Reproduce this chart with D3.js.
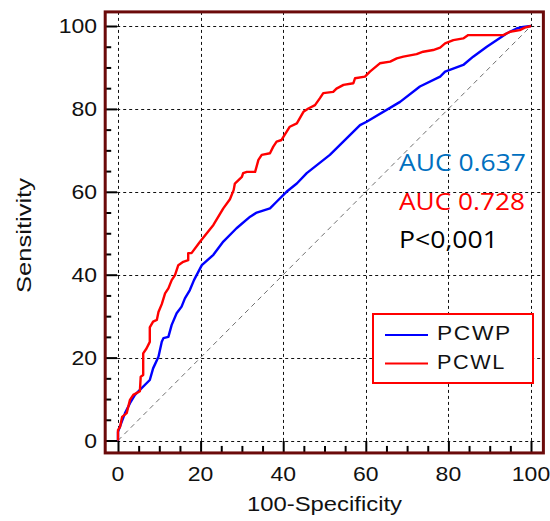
<!DOCTYPE html>
<html>
<head>
<meta charset="utf-8">
<script src="https://cdn.jsdelivr.net/npm/d3@7/dist/d3.min.js"></script>
<style>
    body { margin: 0; background: white; }
    svg { display: block; }
</style>
</head>
<body>
<svg id="chart" width="550" height="521"></svg>
<script>
// ROC curves (100-specificity, sensitivity)
var pcwpX = [0, 0, 0.9, 1.7, 2.9, 4.1, 5.3, 7.7, 8.5, 9.8, 10.6, 11, 12.2, 13, 14.2, 15.4, 16.2, 17.4, 18.4, 20.3, 23.1, 25.5, 28.7, 32, 33.6, 36.8, 38.4, 40.8, 43.3, 45.7, 51.3, 58.6, 60.2, 68.3, 73.1, 78, 79.2, 83.6, 86, 89.3, 94.1, 96.5, 98.1, 100];
var pcwpY = [0, 2.1, 4.5, 6.6, 9, 11, 12.2, 14.6, 17.4, 20.2, 23.8, 24.7, 25, 27.9, 30.7, 32.3, 34.3, 36.3, 38.7, 42.3, 44.8, 48, 51.2, 54, 55, 56, 57.6, 60, 62, 64.5, 68.9, 76.1, 76.9, 81.7, 85.4, 87.8, 89, 90.6, 92.6, 95, 98.2, 99.4, 99.8, 100];

var pcwlX = [0, 0, 0.5, 1, 2.1, 2.9, 3.7, 5.3, 5.5, 6.1, 6.1, 6.9, 7.7, 7.7, 8.5, 9.4, 9.8, 10.6, 11.4, 12.2, 13, 13.8, 14.6, 15.8, 17, 17, 17.8, 19.9, 23.1, 25.5, 27.1, 28, 28.3, 30, 30.3, 31.2, 33.2, 34, 34.8, 36.8, 37.6, 38.4, 39.6, 41.6, 43.3, 44.9, 46.1, 47.7, 48.9, 49.7, 52.1, 52.9, 54.6, 57, 57.4, 59.8, 61, 63.4, 65.9, 67.5, 69.1, 72.3, 73.9, 76.3, 78, 79.2, 81.2, 83.6, 84.8, 93.3, 94.9, 97.3, 98.5, 100];
var pcwlY = [0, 2.5, 3.3, 5.7, 6.6, 9.8, 11, 11.9, 15.4, 15.8, 21, 22.2, 23.8, 27.3, 28.7, 29.1, 31, 32.9, 35.5, 36.7, 38.7, 39.9, 42.3, 43.1, 43.5, 45.2, 45.2, 48, 52, 56, 58.2, 60.4, 62, 63.6, 64.5, 64.8, 64.8, 67.7, 68.9, 69.3, 70.9, 72.1, 72.5, 75.7, 76.5, 79.3, 80.1, 80.9, 82.6, 83.8, 84.1, 84.9, 85.8, 86.2, 87.4, 87.8, 89, 91, 91.4, 92.2, 92.6, 93.2, 93.8, 94.2, 94.8, 95.8, 96.6, 97, 97.8, 97.8, 98.6, 99, 99.6, 100];

var majorTicks = [0, 20, 40, 60, 80, 100];
var minorTicks = [5, 10, 15, 25, 30, 35, 45, 50, 55, 65, 70, 75, 85, 90, 95];
var seriesNames = ["PCWP", "PCWL"];
var seriesColors = ["#0000ff", "#ff0000"];
var aucLabels = ["AUC 0.637", "AUC 0.728", "P<0,001"];
var aucColors = ["#0070c0", "#ff0000", "#000000"];

var svg = d3.select("#chart");

var x = d3.scaleLinear().domain([0, 100]).range([118, 531]);
var y = d3.scaleLinear().domain([0, 100]).range([440.5, 26]);

var frameLeft = x(-3.1), frameRight = x(103), frameTop = y(103.4), frameBottom = y(-3);

// the picture is stretched sideways, so text is scaled to the widths seen there
function stretchText(sel, px, py, width, rotate) {
    sel.each(function(d, i) {
        var t = d3.select(this);
        var w = typeof width === "function" ? width(d, i) : width;
        var len = this.getComputedTextLength();
        var tx = typeof px === "function" ? px(d, i) : px;
        var ty = typeof py === "function" ? py(d, i) : py;
        t.attr("transform", "translate(" + tx + "," + ty + ")" +
            (rotate ? " rotate(" + rotate + ")" : "") +
            " scale(" + (w / len) + ",1)");
    });
}

svg.append("rect")
    .attr("x", frameLeft)
    .attr("y", frameTop)
    .attr("width", frameRight - frameLeft)
    .attr("height", frameBottom - frameTop)
    .attr("fill", "white");

// grid
svg.selectAll(".vgrid")
    .data(majorTicks)
    .enter()
    .append("line")
    .attr("x1", function(d) {return Math.round(x(d)) + 0.5})
    .attr("x2", function(d) {return Math.round(x(d)) + 0.5})
    .attr("y1", frameTop)
    .attr("y2", frameBottom)
    .attr("stroke", "#111")
    .attr("stroke-width", 1)
    .attr("stroke-dasharray", "3,3");

svg.selectAll(".hgrid")
    .data(majorTicks)
    .enter()
    .append("line")
    .attr("y1", function(d) {return Math.round(y(d)) + 0.5})
    .attr("y2", function(d) {return Math.round(y(d)) + 0.5})
    .attr("x1", frameLeft)
    .attr("x2", frameRight)
    .attr("stroke", "#111")
    .attr("stroke-width", 1)
    .attr("stroke-dasharray", "3,3");

// diagonal reference
svg.append("line")
    .attr("x1", x(0)).attr("y1", y(0))
    .attr("x2", x(100)).attr("y2", y(100))
    .attr("stroke", "#707070")
    .attr("stroke-width", 1)
    .attr("stroke-dasharray", "5,4");

// curves
var line = d3.line()
    .x(function(d) {return x(d[0])})
    .y(function(d) {return y(d[1])});

var curves = [d3.zip(pcwpX, pcwpY), d3.zip(pcwlX, pcwlY)];

svg.selectAll(".roc")
    .data(curves)
    .enter()
    .append("path")
    .attr("d", line)
    .attr("fill", "none")
    .attr("stroke", function(d, i) {return seriesColors[i]})
    .attr("stroke-width", 2.4)
    .attr("stroke-linejoin", "round");

// ticks (pointing inward)
var yAxis = d3.axisRight(y).tickValues(majorTicks).tickSize(12).tickFormat("");
var yMinor = d3.axisRight(y).tickValues(minorTicks).tickSize(6).tickFormat("");
var xAxis = d3.axisTop(x).tickValues(majorTicks).tickSize(12).tickFormat("");
var xMinor = d3.axisTop(x).tickValues(minorTicks).tickSize(7).tickFormat("");

[yAxis, yMinor].forEach(function(ax) {
    svg.append("g")
        .attr("transform", "translate(" + frameLeft + ",0)")
        .call(ax)
        .call(function(g) {g.select(".domain").remove()})
        .selectAll("line")
        .attr("stroke", "black")
        .attr("stroke-width", 2);
});

[xAxis, xMinor].forEach(function(ax) {
    svg.append("g")
        .attr("transform", "translate(0," + frameBottom + ")")
        .call(ax)
        .call(function(g) {g.select(".domain").remove()})
        .selectAll("line")
        .attr("stroke", "black")
        .attr("stroke-width", 2);
});

// frame
svg.append("rect")
    .attr("x", frameLeft)
    .attr("y", frameTop)
    .attr("width", frameRight - frameLeft)
    .attr("height", frameBottom - frameTop)
    .attr("fill", "none")
    .attr("stroke", "#6b0a0a")
    .attr("stroke-width", 3);

// tick labels
var labelFont = "'Liberation Sans', Arial, sans-serif";

svg.selectAll(".ylab")
    .data(majorTicks)
    .enter()
    .append("text")
    .attr("text-anchor", "end")
    .attr("font-family", labelFont)
    .attr("font-size", 20.5)
    .attr("fill", "#111")
    .text(function(d) {return d})
    .call(stretchText, 97, function(d) {return y(d) + 7}, function(d) {return String(d).length * 12.8});

svg.selectAll(".xlab")
    .data(majorTicks)
    .enter()
    .append("text")
    .attr("text-anchor", "middle")
    .attr("font-family", labelFont)
    .attr("font-size", 20.5)
    .attr("fill", "#111")
    .text(function(d) {return d})
    .call(stretchText, function(d) {return x(d)}, 481, function(d) {return String(d).length * 12.8});

// axis titles
svg.append("text")
    .attr("text-anchor", "middle")
    .attr("font-family", labelFont)
    .attr("font-size", 20)
    .attr("fill", "#111")
    .text("100-Specificity")
    .call(stretchText, 324.5, 511, 155);

svg.append("text")
    .attr("text-anchor", "middle")
    .attr("font-family", labelFont)
    .attr("font-size", 21)
    .attr("fill", "#111")
    .text("Sensitivity")
    .call(stretchText, 31, 235.5, 115, -90);

// AUC annotation
var aucWidths = [127, 126, 99];
svg.selectAll(".auc")
    .data(aucLabels)
    .enter()
    .append("text")
    .attr("font-family", "'Open Sans', Lato, sans-serif")
    .attr("font-size", 23)
    .attr("fill", function(d, i) {return aucColors[i]})
    .text(function(d) {return d})
    .call(stretchText, 399, function(d, i) {return 171 + i * 38.5}, function(d, i) {return aucWidths[i]});

// legend
var legend = svg.append("g");

legend.append("rect")
    .attr("x", 373)
    .attr("y", 314)
    .attr("width", 160)
    .attr("height", 69)
    .attr("fill", "white")
    .attr("stroke", "#ff0000")
    .attr("stroke-width", 2);

var items = legend.selectAll(".item")
    .data(seriesNames)
    .enter()
    .append("g")
    .attr("transform", function(d, i) {return "translate(0," + (335 + i * 28.5) + ")"});

items.append("line")
    .attr("x1", 385)
    .attr("x2", 428)
    .attr("stroke", function(d, i) {return seriesColors[i]})
    .attr("stroke-width", 2);

items.append("text")
    .attr("font-family", labelFont)
    .attr("font-size", 20.5)
    .attr("fill", "#111")
    .attr("letter-spacing", 1.5)
    .text(function(d) {return d})
    .call(stretchText, 437, 5, function(d, i) {return i === 0 ? 75 : 69});
</script>
</body>
</html>
